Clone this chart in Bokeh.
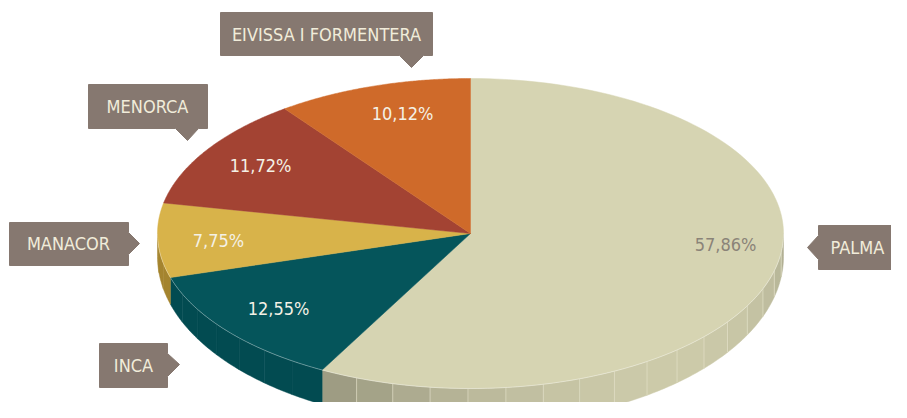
import numpy as np
from bokeh.plotting import figure
from bokeh.models import Range1d
from bokeh.core.properties import value
from bokeh.embed import file_html
from bokeh.resources import INLINE

# ---- data ----
categories = ["PALMA", "INCA", "MANACOR", "MENORCA", "EIVISSA I FORMENTERA"]
shares = [57.86, 12.55, 7.75, 11.72, 10.12]
top_colors = ["#d6d4b2", "#05555b", "#d8b34a", "#a34333", "#cf6a2a"]
side_colors = ["#c9c7a8", "#024b51", "#a4842f", "#8a3528", "#b05a22"]

# ---- layout (pixel-like coordinates) ----
CX, CY, RX, RY = 470, 233, 313, 155
BCY, BRY = 256, 168
FONT = value("'DejaVu Sans Condensed', Roboto, sans-serif")

pct_pos = [(725, 244), (278, 308), (218, 240), (260, 165), (402, 113)]
pct_colors = ["#8a8378", "#f4f1e6", "#f4f1e6", "#f4f1e6", "#f4f1e6"]

box_shapes = [
    [(818, 225), (907, 225), (907, 269), (818, 269), (818, 259), (807, 247), (818, 235)],
    [(99, 343), (167, 343), (167, 353), (179, 364), (167, 376), (167, 387), (99, 387)],
    [(9, 222), (128, 222), (128, 232), (139, 243), (128, 254), (128, 265), (9, 265)],
    [(88, 84), (207, 84), (207, 128), (198, 128), (187, 140), (175, 128), (88, 128)],
    [(220, 12), (432, 12), (432, 55), (423, 55), (411, 67), (399, 55), (220, 55)],
]
box_text_pos = [(857, 247), (133, 365), (68, 243), (147, 106), (326, 34)]


def top_pt(t):
    return CX + RX * np.sin(t), CY - RY * np.cos(t)


def bot_pt(t):
    return CX + RX * np.sin(t), BCY - BRY * np.cos(t)


p = figure(width=891, height=402, x_range=Range1d(0, 891), y_range=Range1d(402, 0),
           output_backend="svg", toolbar_location=None, min_border=0,
           x_axis_location=None, y_axis_location=None,
           background_fill_color="white", border_fill_color="white")
p.outline_line_color = None
p.xgrid.visible = False
p.ygrid.visible = False

total = sum(shares)
bounds = np.concatenate([[0], np.cumsum(shares)]) / total * 2 * np.pi


def shade(hexc, f):
    h = hexc.lstrip("#")
    r, g, b = (int(h[i:i + 2], 16) for i in (0, 2, 4))
    return "#%02x%02x%02x" % (int(min(255, r * f)), int(min(255, g * f)), int(min(255, b * f)))


# ---- side (depth) strips ----
sx, sy, sc = [], [], []
lx, ly, lc = [], [], []
for i, (a0, a1) in enumerate(zip(bounds[:-1], bounds[1:])):
    s0, s1 = max(a0, np.pi / 2), min(a1, 3 * np.pi / 2)
    if s1 <= s0:
        continue
    n = max(1, int(np.ceil((s1 - s0) / np.radians(7))))
    edges = np.linspace(s0, s1, n + 1)
    for k in range(n):
        t = np.linspace(edges[k], edges[k + 1], 12)
        tx, ty = top_pt(t)
        bx, by = bot_pt(t[::-1])
        sx.append(list(tx) + list(bx))
        sy.append(list(ty) + list(by))
        mid = np.degrees((edges[k] + edges[k + 1]) / 2)
        if i == 0:
            f = 0.955 - 0.2 * ((mid - 140) / 60) ** 2
            f = max(f, 0.74)
            sc.append(shade(top_colors[0], f))
        else:
            sc.append(side_colors[i])
        if k > 0 and i == 0:
            x0, y0 = top_pt(edges[k])
            x1, y1 = bot_pt(edges[k])
            lx.append([x0, x1])
            ly.append([y0, y1])
            lc.append("#e2e0c8")
p.patches(sx, sy, fill_color=sc, line_color=sc, line_width=0.5)
p.multi_line(lx, ly, line_color=lc, line_width=1, line_alpha=0.7)

# ---- top face wedges ----
wx, wy = [], []
for a0, a1 in zip(bounds[:-1], bounds[1:]):
    t = np.linspace(a0, a1, 120)
    tx, ty = top_pt(t)
    wx.append([CX] + list(tx))
    wy.append([CY] + list(ty))
p.patches(wx, wy, fill_color=top_colors, line_color=top_colors, line_width=0.5)

# light rim on the front edge
t = np.linspace(np.pi / 2, 3 * np.pi / 2, 200)
rx_, ry_ = top_pt(t)
p.line(rx_, ry_, line_color="#ffffff", line_alpha=0.35, line_width=1)

# ---- percentage labels ----
pct_text = [f"{v:.2f}".replace(".", ",") + "%" for v in shares]
p.text(x=[q[0] for q in pct_pos], y=[q[1] for q in pct_pos], text=pct_text,
       text_color=pct_colors, text_font=FONT, text_font_size="18px",
       text_align="center", text_baseline="middle")

# ---- category label boxes ----
p.patches([[q[0] for q in s] for s in box_shapes], [[q[1] for q in s] for s in box_shapes],
          fill_color="#867870", line_color="#867870")
p.text(x=[q[0] for q in box_text_pos], y=[q[1] for q in box_text_pos], text=categories,
       text_color="#f1ecda", text_font=FONT, text_font_size="18px",
       text_align="center", text_baseline="middle")

open("out.html", "w").write(file_html(p, INLINE))
